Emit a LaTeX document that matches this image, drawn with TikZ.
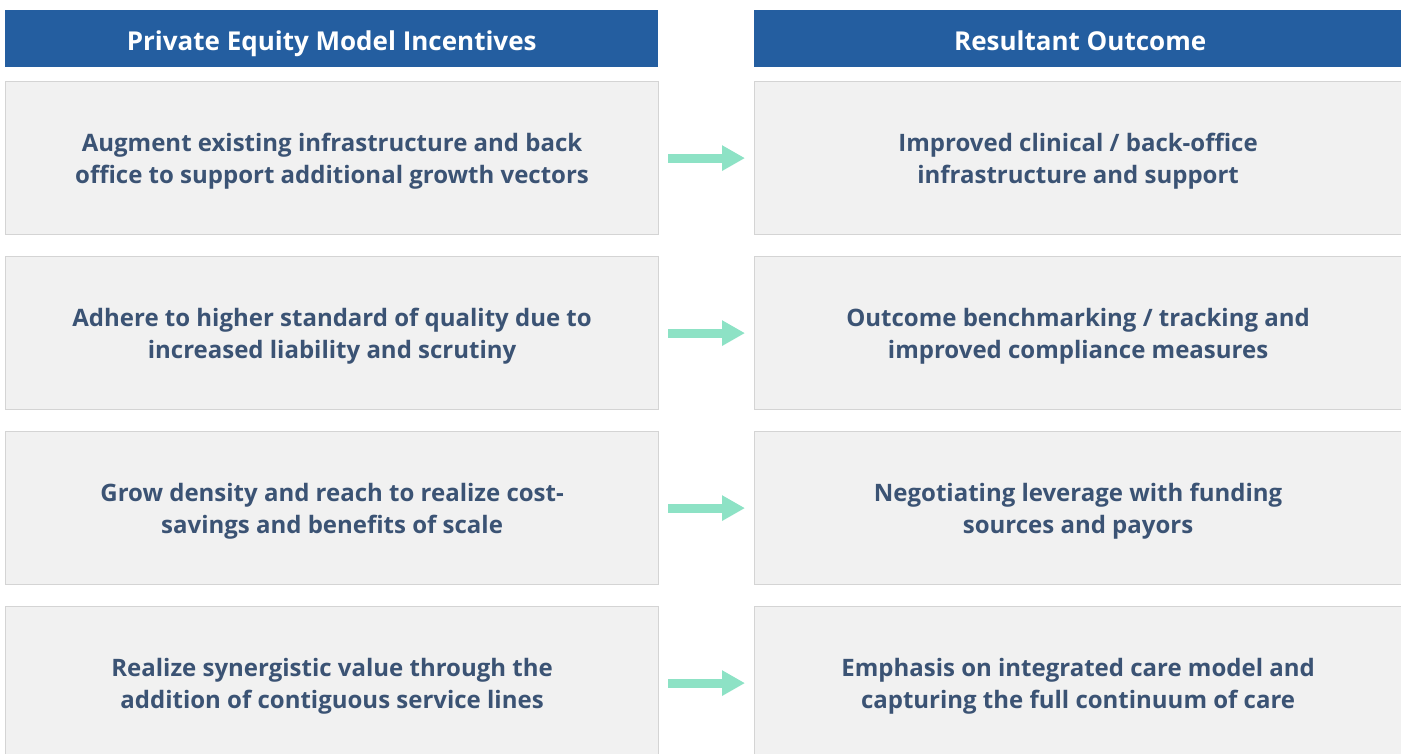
\documentclass[tikz,border=0pt]{standalone}
\usepackage{fontspec}
\setmainfont{Open Sans}
\usetikzlibrary{arrows.meta}
\definecolor{headblue}{HTML}{245EA0}
\definecolor{boxfill}{HTML}{F1F1F1}
\definecolor{boxline}{HTML}{D4D4D4}
\definecolor{textslate}{HTML}{3B5374}
\definecolor{arrowgreen}{HTML}{8DE2C5}
% strut that sets the height of the first text line in each cell
\newcommand{\celltop}{\rule{0pt}{25pt}}
\tikzset{
  header/.style={fill=headblue, text=white, minimum height=57pt, inner sep=0pt,
    text height=29pt, text depth=6pt,
    font=\fontsize{26}{30}\selectfont\bfseries, anchor=north west},
  cell/.style={fill=boxfill, draw=boxline, line width=1.2pt, minimum height=153pt, inner sep=0pt,
    anchor=north west, align=center, text=textslate,
    font=\fontsize{24}{31.5}\selectfont\bfseries},
  flow/.style={draw=arrowgreen, line width=9pt, shorten <=9pt, shorten >=9pt,
    -{Triangle[length=23pt,width=24pt]}},
}
\begin{document}
\begin{tikzpicture}[x=1pt,y=-1pt]
\useasboundingbox (0,0) rectangle (1401,753);
\fill[white] (0,0) rectangle (1401,753);
% column headers
\node[header, minimum width=653pt] (hl) at (5,10) {Private Equity Model Incentives};
\node[header, minimum width=652pt] (hr) at (754,10) {Resultant Outcome};
% left column
\node[cell, minimum width=653pt] (l1) at (5,81) {\celltop Augment existing infrastructure and back\\office to support additional growth vectors};
\node[cell, minimum width=653pt] (l2) at (5,256) {\celltop Adhere to higher standard of quality due to\\increased liability and scrutiny};
\node[cell, minimum width=653pt] (l3) at (5,431) {\celltop Grow density and reach to realize cost-\\savings and benefits of scale};
\node[cell, minimum width=653pt] (l4) at (5,606) {\celltop Realize synergistic value through the\\addition of contiguous service lines};
% right column
\node[cell, minimum width=660pt] (r1) at (754,81) {\celltop\hspace*{-13pt}Improved clinical / back-office\\\hspace*{-13pt}infrastructure and support};
\node[cell, minimum width=660pt] (r2) at (754,256) {\celltop\hspace*{-13pt}Outcome benchmarking / tracking and\\\hspace*{-13pt}improved compliance measures};
\node[cell, minimum width=660pt] (r3) at (754,431) {\celltop\hspace*{-13pt}Negotiating leverage with funding\\\hspace*{-13pt}sources and payors};
\node[cell, minimum width=660pt] (r4) at (754,606) {\celltop\hspace*{-13pt}Emphasis on integrated care model and\\\hspace*{-13pt}capturing the full continuum of care};
% arrows between paired boxes
\foreach \i in {1,2,3,4} {
  \draw[flow] (l\i.east) -- (r\i.west);
}
\end{tikzpicture}
\end{document}
